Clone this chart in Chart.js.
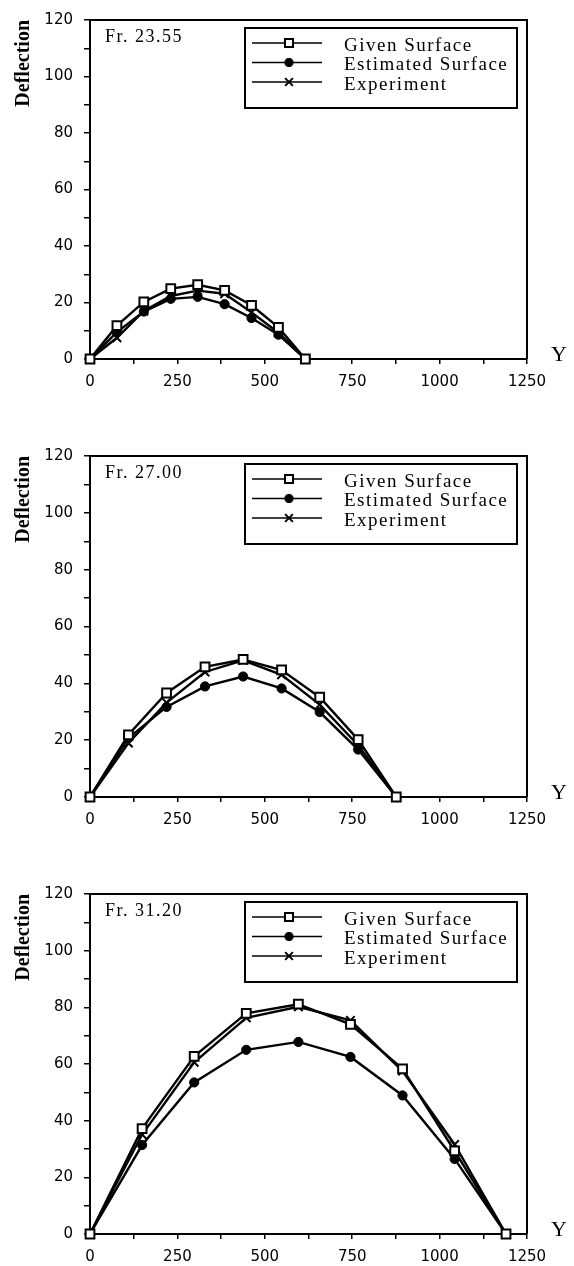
<!DOCTYPE html>
<html><head><meta charset="utf-8">
<script src="https://cdn.jsdelivr.net/npm/chart.js@4.4.1/dist/chart.umd.min.js"></script>
<style>
html,body{margin:0;padding:0;background:#fff;width:574px;height:1266px;overflow:hidden}
canvas{position:absolute;left:0}
</style></head><body>
<canvas id="c1" width="574" height="436" style="top:0px"></canvas>
<canvas id="c2" width="574" height="438" style="top:436px"></canvas>
<canvas id="c3" width="574" height="392" style="top:874px"></canvas>
<script>
// ---- data ----
const seriesNames = ['Given Surface', 'Estimated Surface', 'Experiment'];
const xAxisLabel = 'Y';
const yAxisLabel = 'Deflection';
const xMajorTicks = [0, 250, 500, 750, 1000, 1250];
const yMajorTicks = [0, 20, 40, 60, 80, 100, 120];

const fr1Label = 'Fr. 23.55';
const fr1Y = [0, 77, 154, 231, 308, 385, 462, 539, 616];
const fr1Given = [0, 11.8, 20.2, 24.9, 26.3, 24.3, 19.0, 11.2, 0];
const fr1Estimated = [0, 9.5, 16.8, 21.3, 22.0, 19.4, 14.5, 8.6, 0];
const fr1Experiment = [0, 7.5, 17.0, 22.3, 24.2, 23.1, 16.5, 9.3, 0];

const fr2Label = 'Fr. 27.00';
const fr2Y = [0, 110, 219, 329, 438, 548, 657, 767, 876];
const fr2Given = [0, 21.9, 36.6, 45.8, 48.4, 44.7, 35.1, 20.2, 0];
const fr2Estimated = [0, 20.7, 31.7, 38.9, 42.4, 38.2, 29.9, 16.7, 0];
const fr2Experiment = [0, 19.0, 33.2, 44.0, 48.1, 43.0, 32.5, 18.2, 0];

const fr3Label = 'Fr. 31.20';
const fr3Y = [0, 149, 298, 447, 596, 745, 894, 1043, 1190];
const fr3Given = [0, 37.2, 62.7, 77.9, 81.1, 74.0, 58.3, 29.3, 0];
const fr3Estimated = [0, 31.4, 53.5, 65.0, 67.8, 62.5, 48.9, 26.5, 0];
const fr3Experiment = [0, 35.1, 60.6, 76.3, 80.2, 75.4, 57.5, 31.6, 0];

// ---- drawing ----
function setSpacing(ctx, v) { if ('letterSpacing' in ctx) ctx.letterSpacing = v; }

const framePlugin = {
  id: 'frame',
  afterDraw(chart, args, opts) {
    const ctx = chart.ctx, a = chart.chartArea;
    ctx.save();
    ctx.strokeStyle = '#000';
    ctx.lineWidth = 2;
    ctx.beginPath();
    ctx.moveTo(a.left, a.top); ctx.lineTo(a.right, a.top); ctx.lineTo(a.right, a.bottom);
    ctx.stroke();

    ctx.fillStyle = '#000';
    ctx.textAlign = 'left';
    ctx.textBaseline = 'middle';
    setSpacing(ctx, '1.5px');
    ctx.font = '18px "Liberation Serif"';
    ctx.fillText(opts.label, a.left + 15, a.top + 17);

    // legend box
    const bx = a.left + 155, by = a.top + 8, bw = 272, bh = 80;
    ctx.fillStyle = '#fff';
    ctx.fillRect(bx, by, bw, bh);
    ctx.strokeStyle = '#000';
    ctx.lineWidth = 2;
    ctx.strokeRect(bx, by, bw, bh);
    const rows = [15, 34.5, 54];
    chart.data.datasets.forEach((ds, i) => {
      const ry = by + rows[i];
      ctx.strokeStyle = '#000';
      ctx.lineWidth = 1.6;
      ctx.beginPath(); ctx.moveTo(bx + 7, ry); ctx.lineTo(bx + 77, ry); ctx.stroke();
      ctx.fillStyle = ds.pointBackgroundColor;
      ctx.lineWidth = ds.pointBorderWidth;
      Chart.helpers.drawPoint(ctx, {pointStyle: ds.pointStyle, radius: ds.pointRadius - 0.5, borderWidth: ds.pointBorderWidth, rotation: 0}, bx + 44, ry);
      ctx.fillStyle = '#000';
      ctx.font = '19px "Liberation Serif"';
      ctx.textAlign = 'left';
      ctx.textBaseline = 'middle';
      ctx.fillText(ds.label, bx + 99, ry + 3);
    });

    // axis letter Y
    setSpacing(ctx, '0px');
    ctx.fillStyle = '#000';
    ctx.font = '22px "Liberation Serif"';
    ctx.textAlign = 'center';
    ctx.textBaseline = 'middle';
    ctx.fillText(xAxisLabel, a.right + 32, a.bottom - 4);
    ctx.restore();
  }
};

function makeChart(id, label, xs, given, est, exp, xAxisH) {
  const pts = ys => xs.map((x, i) => ({x: x, y: ys[i]}));
  const common = {borderColor: '#000', borderWidth: 2.4, tension: 0, clip: false, pointBorderColor: '#000', fill: false};
  return new Chart(document.getElementById(id), {
    type: 'line',
    data: {
      datasets: [
        Object.assign({label: seriesNames[0], data: pts(given), pointStyle: 'rect', pointRadius: 6.2, pointBackgroundColor: '#fff', pointBorderWidth: 2}, common),
        Object.assign({label: seriesNames[1], data: pts(est), pointStyle: 'circle', pointRadius: 4.6, pointBackgroundColor: '#000', pointBorderWidth: 1}, common),
        Object.assign({label: seriesNames[2], data: pts(exp), pointStyle: 'crossRot', pointRadius: 6, pointBackgroundColor: '#000', pointBorderWidth: 2}, common)
      ]
    },
    options: {
      responsive: false,
      animation: false,
      devicePixelRatio: 1,
      layout: {padding: {left: 0, top: 13, right: 47, bottom: 0}},
      plugins: {legend: {display: false}, tooltip: {enabled: false}, frame: {label: label}},
      scales: {
        x: {
          type: 'linear', min: 0, max: 1250,
          border: {display: true, color: '#000', width: 2},
          grid: {drawOnChartArea: false, drawTicks: true, tickLength: 5, color: '#000', lineWidth: 1.5},
          ticks: {stepSize: 125, autoSkip: false, maxRotation: 0, color: '#000', padding: 9,
                  font: {family: 'DejaVu Sans', size: 15},
                  callback: v => xMajorTicks.includes(v) ? String(v) : ''},
          afterFit: s => { s.height = xAxisH; }
        },
        y: {
          type: 'linear', min: 0, max: 120,
          border: {display: true, color: '#000', width: 2},
          grid: {drawOnChartArea: false, drawTicks: true, tickLength: 6, color: '#000', lineWidth: 1.5},
          ticks: {stepSize: 10, autoSkip: false, color: '#000', padding: 11,
                  font: {family: 'DejaVu Sans', size: 15},
                  callback: v => yMajorTicks.includes(v) ? String(v) : ''},
          title: {display: true, text: yAxisLabel, align: 'end', color: '#000',
                  font: {family: 'Liberation Serif', size: 20, weight: 'bold'},
                  padding: {top: 12, bottom: 0}},
          afterFit: s => { s.width = 90; }
        }
      }
    },
    plugins: [framePlugin]
  });
}

makeChart('c1', fr1Label, fr1Y, fr1Given, fr1Estimated, fr1Experiment, 77);
makeChart('c2', fr2Label, fr2Y, fr2Given, fr2Estimated, fr2Experiment, 77);
makeChart('c3', fr3Label, fr3Y, fr3Given, fr3Estimated, fr3Experiment, 32);
</script>
</body></html>
